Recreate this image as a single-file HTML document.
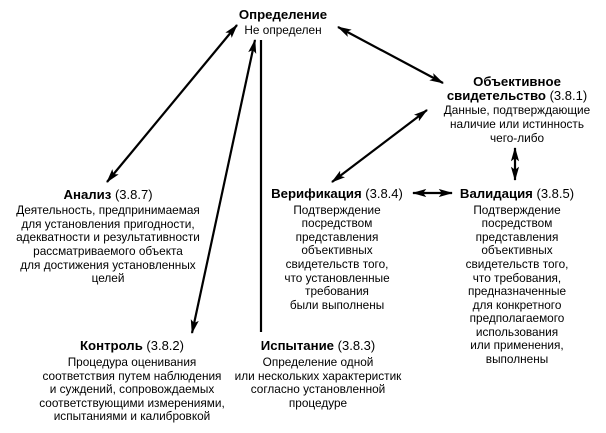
<!DOCTYPE html>
<html><head><meta charset="utf-8"><style>
html,body{margin:0;padding:0;background:#fff;}
svg{display:block;}
text{font-family:"Liberation Sans","DejaVu Sans",sans-serif;font-size:11.8px;fill:#000;text-anchor:middle;}
.b{font-weight:bold;font-size:13.2px;}
.n{font-size:13px;}
</style></head><body>
<svg width="606" height="433" viewBox="0 0 606 433" xmlns="http://www.w3.org/2000/svg">
<defs>
<marker id="a" viewBox="0 0 14 8" refX="13" refY="4" markerWidth="6.5" markerHeight="3.8" orient="auto-start-reverse" markerUnits="strokeWidth">
<path d="M0,0 L14,4 L0,8 L3,4 z" fill="#000"/></marker>
</defs>
<g stroke="#000" stroke-width="2.2" fill="none">
<line x1="237" y1="25" x2="107" y2="182" marker-start="url(#a)" marker-end="url(#a)"/>
<line x1="255" y1="40" x2="192" y2="333" marker-start="url(#a)" marker-end="url(#a)"/>
<line x1="261" y1="40" x2="261" y2="332"/>
<line x1="338" y1="27" x2="443" y2="83" marker-start="url(#a)" marker-end="url(#a)"/>
<line x1="427" y1="110" x2="332" y2="182" marker-start="url(#a)" marker-end="url(#a)"/>
<line x1="515" y1="148" x2="515" y2="180" marker-start="url(#a)" marker-end="url(#a)"/>
<line x1="413" y1="193" x2="452" y2="193" marker-start="url(#a)" marker-end="url(#a)"/>
</g>
<text x="283" y="19" class="b">Определение</text>
<text x="283" y="34">Не определен</text>

<text x="517" y="86" class="b">Объективное</text>
<text x="517" y="100"><tspan class="b">свидетельство</tspan><tspan class="n"> (3.8.1)</tspan></text>
<text x="517" y="114">Данные, подтверждающие</text>
<text x="517" y="128">наличие или истинность</text>
<text x="517" y="142">чего-либо</text>

<text x="108" y="199"><tspan class="b">Анализ</tspan><tspan class="n"> (3.8.7)</tspan></text>
<text x="108" y="214">Деятельность, предпринимаемая</text>
<text x="108" y="228">для установления пригодности,</text>
<text x="108" y="241">адекватности и результативности</text>
<text x="108" y="255">рассматриваемого объекта</text>
<text x="108" y="269">для достижения установленных</text>
<text x="108" y="282">целей</text>

<text x="337" y="198"><tspan class="b">Верификация</tspan><tspan class="n"> (3.8.4)</tspan></text>
<text x="337" y="214">Подтверждение</text>
<text x="337" y="227">посредством</text>
<text x="337" y="241">представления</text>
<text x="337" y="254">объективных</text>
<text x="337" y="268">свидетельств того,</text>
<text x="337" y="282">что установленные</text>
<text x="337" y="295">требования</text>
<text x="337" y="309">были выполнены</text>

<text x="517" y="198"><tspan class="b">Валидация</tspan><tspan class="n"> (3.8.5)</tspan></text>
<text x="517" y="214">Подтверждение</text>
<text x="517" y="227">посредством</text>
<text x="517" y="241">представления</text>
<text x="517" y="254">объективных</text>
<text x="517" y="268">свидетельств того,</text>
<text x="517" y="282">что требования,</text>
<text x="517" y="295">предназначенные</text>
<text x="517" y="309">для конкретного</text>
<text x="517" y="322">предполагаемого</text>
<text x="517" y="336">использования</text>
<text x="517" y="349">или применения,</text>
<text x="517" y="363">выполнены</text>

<text x="132" y="350"><tspan class="b">Контроль</tspan><tspan class="n"> (3.8.2)</tspan></text>
<text x="132" y="366">Процедура оценивания</text>
<text x="132" y="380">соответствия путем наблюдения</text>
<text x="132" y="393">и суждений, сопровождаемых</text>
<text x="132" y="407">соответствующими измерениями,</text>
<text x="132" y="420">испытаниями и калибровкой</text>

<text x="318" y="350"><tspan class="b">Испытание</tspan><tspan class="n"> (3.8.3)</tspan></text>
<text x="318" y="366">Определение одной</text>
<text x="318" y="380">или нескольких характеристик</text>
<text x="318" y="393">согласно установленной</text>
<text x="318" y="407">процедуре</text>
</svg>
</body></html>
